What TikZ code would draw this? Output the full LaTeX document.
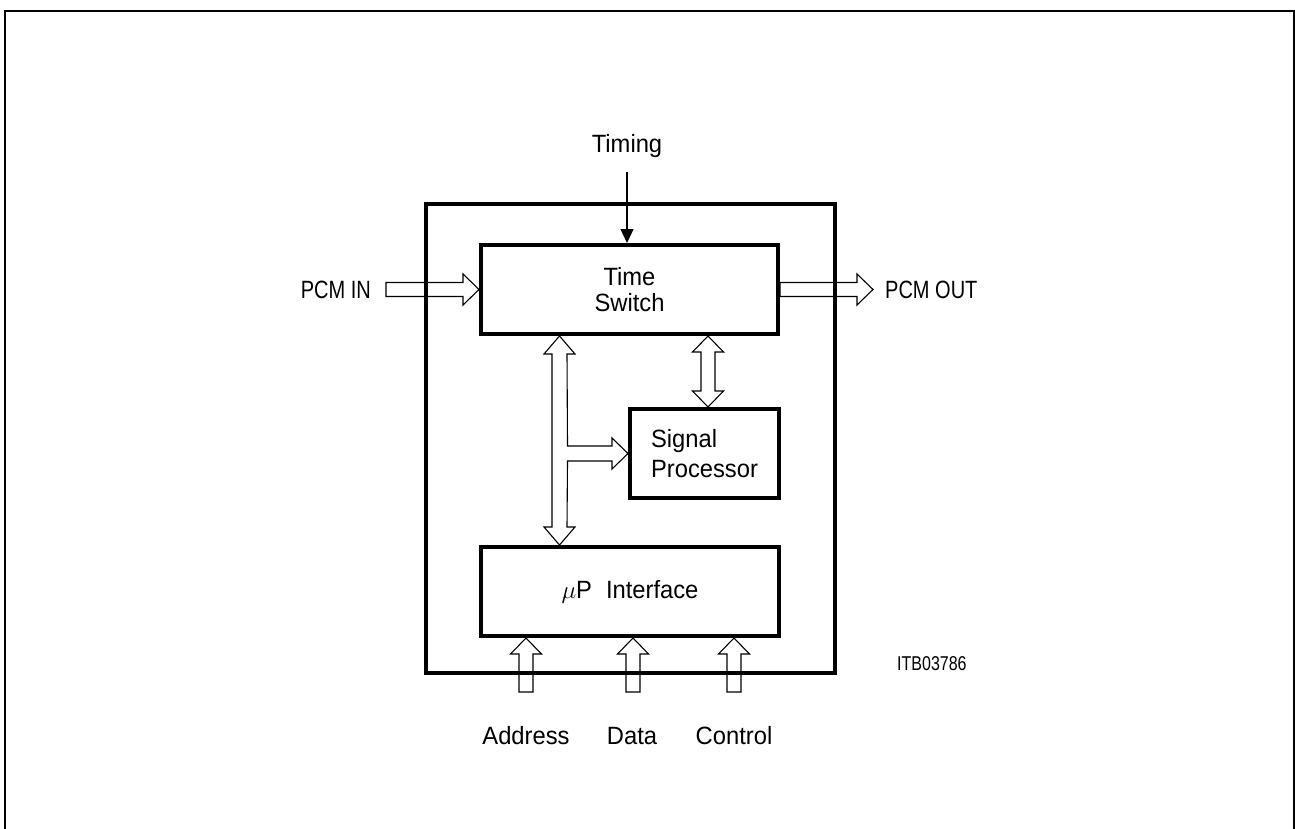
\documentclass[tikz,border=0pt]{standalone}
\usepackage{fontspec}
\setmainfont[FakeStretch=0.95]{Liberation Sans}
\newfontfamily\narrowfont[FakeStretch=0.8]{Liberation Sans}
\usetikzlibrary{calc,arrows.meta}
\tikzset{
  blk/.style={draw, line width=4pt, rectangle, inner sep=0pt},
  harrow/.style={draw, line width=1.1pt, line join=miter},
  lbl/.style={inner sep=0pt, font=\fontsize{25}{30}\selectfont},
  capslbl/.style={inner sep=0pt, font=\fontsize{25}{30}\selectfont\narrowfont},
  small/.style={inner sep=0pt, font=\fontsize{20}{24}\selectfont\narrowfont},
}
\newcommand{\hollowarrow}[2]{%
  \coordinate (ha-b) at ($(#2)!16pt!(#1)$);
  \draw[harrow] ($(#1)!7pt!90:(#2)$) -- ($(ha-b)!7pt!-90:(#1)$) -- ($(ha-b)!15.5pt!-90:(#1)$) -- (#2) -- ($(ha-b)!15.5pt!90:(#1)$) -- ($(ha-b)!7pt!90:(#1)$) -- ($(#1)!7pt!-90:(#2)$) -- cycle;}
\newcommand{\dblhollow}[2]{%
  \coordinate (da-a) at ($(#1)!16pt!(#2)$);
  \coordinate (da-b) at ($(#2)!16pt!(#1)$);
  \draw[harrow] (#1) -- ($(da-a)!15.5pt!90:(#2)$) -- ($(da-a)!7pt!90:(#2)$) -- ($(da-b)!7pt!-90:(#1)$) -- ($(da-b)!15.5pt!-90:(#1)$) -- (#2) -- ($(da-b)!15.5pt!90:(#1)$) -- ($(da-b)!7pt!90:(#1)$) -- ($(da-a)!7pt!-90:(#2)$) -- ($(da-a)!15.5pt!-90:(#2)$) -- cycle;}
\begin{document}
\begin{tikzpicture}[x=1pt,y=-1pt]
\useasboundingbox (0,0) rectangle (1295,829);
% outer frame
\draw[line width=2.5pt] (5,829) -- (5,11) -- (1294,11) -- (1294,829);
% chip and blocks
\node[blk, minimum width=409pt, minimum height=469pt] (chip) at (630.5,438.5) {};
\node[blk, minimum width=297pt, minimum height=89pt, inner sep=0pt, font=\fontsize{25}{26}\selectfont, align=center] (ts) at (629.5,289.5) {Time\\Switch};
\node[blk, minimum width=149pt, minimum height=89pt, lbl, align=left] (sp) at (704.5,453.5) {Signal\\Processor};
\node[blk, minimum width=298pt, minimum height=89pt, lbl] (mp) at (630,591.5) {\(\mu\)P\hspace{14pt}Interface};
% labels
\node[lbl, anchor=base] (timing) at (627,153) {Timing};
\node[capslbl, anchor=base east] (pcmin) at (371,298) {PCM IN};
\node[capslbl, anchor=base west] (pcmout) at (885,298) {PCM OUT};
\node[lbl, anchor=base] (addr) at (526,744) {Address};
\node[lbl, anchor=base] (data) at (632,744) {Data};
\node[lbl, anchor=base] (ctrl) at (734,744) {Control};
\node[small, anchor=base west] (itb) at (897,670) {ITB03786};
% timing arrow
\coordinate (timtail) at (627,172);
\draw[line width=1.3pt, -{Triangle[length=14pt,width=13pt]}] (timtail) -- (ts.north -| timtail);
% PCM in / out
\coordinate (pcmintail) at (386,289.5);
\hollowarrow{pcmintail}{ts.west}
\coordinate (pcmouttip) at (873,289.5);
\hollowarrow{ts.east}{pcmouttip}
% ts <-> sp
\coordinate (tsspx) at (708,0);
\dblhollow{ts.south -| tsspx}{sp.north -| tsspx}
% address/data/control
\coordinate (addrtail) at (526,692);
\coordinate (datatail) at (633,692);
\coordinate (ctrltail) at (734,692);
\hollowarrow{addrtail}{mp.south -| addrtail}
\hollowarrow{datatail}{mp.south -| datatail}
\hollowarrow{ctrltail}{mp.south -| ctrltail}
% bus with branch
\coordinate (busx) at (559.5,0);
\coordinate (busT) at (ts.south -| busx);
\coordinate (busB) at (mp.north -| busx);
\coordinate (busR) at (sp.west |- 0,453.5);
\draw[harrow] (busT) -- ($(busT)+(15.5,18)$) -- ($(busT)+(7.5,18)$)
  -- ($(busR)+(-60.5,-7.5)$) -- ($(busR)+(-16,-7.5)$) -- ($(busR)+(-16,-15.5)$)
  -- (busR) -- ($(busR)+(-16,15.5)$) -- ($(busR)+(-16,7.5)$) -- ($(busR)+(-60.5,7.5)$)
  -- ($(busB)+(7.5,-18)$) -- ($(busB)+(15.5,-18)$) -- (busB)
  -- ($(busB)+(-15.5,-18)$) -- ($(busB)+(-7.5,-18)$) -- ($(busT)+(-7.5,18)$)
  -- ($(busT)+(-15.5,18)$) -- cycle;
\end{tikzpicture}
\end{document}
